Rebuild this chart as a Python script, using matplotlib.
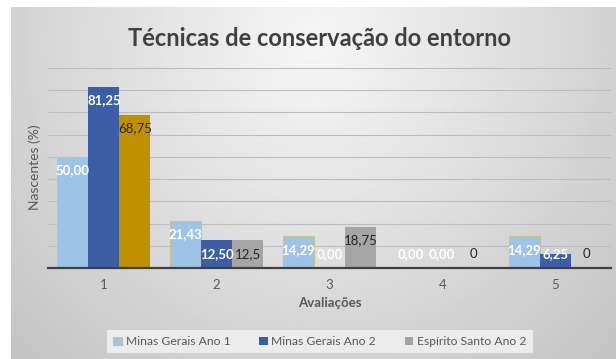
import numpy as np
import matplotlib.pyplot as plt
from matplotlib.patches import Patch

categorias = ['1', '2', '3', '4', '5']
mg_ano1 = [50.00, 21.43, 14.29, 0.00, 14.29]
mg_ano2 = [81.25, 12.50, 0.00, 0.00, 6.25]
es_ano2 = [68.75, 12.5, 18.75, 0, 0]
rotulos_mg1 = ['50,00', '21,43', '14,29', '0,00', '14,29']
rotulos_mg2 = ['81,25', '12,50', '0,00', '0,00', '6,25']
rotulos_es = ['68,75', '12,5', '18,75', '0', '0']

plt.rcParams['font.family'] = ['Lato', 'DejaVu Sans']

fig = plt.figure(figsize=(6.16, 3.59), dpi=100)
fig.patch.set_facecolor('white')

# fundo cinza com degradê radial
bg = fig.add_axes([11 / 616, 0, 1 - 11 / 616, 352 / 359], zorder=-10)
gx, gy = np.meshgrid(np.linspace(0, 1, 300), np.linspace(0, 1, 200))
r = np.sqrt(((gx - 0.5) / 0.5) ** 2 + ((gy - 0.1) / 0.9) ** 2)
val = np.clip(0.965 - 0.14 * r, 0, 1)
bg.imshow(val, cmap='gray', vmin=0, vmax=1, aspect='auto', extent=[0, 1, 1, 0])
bg.axis('off')

ax = fig.add_axes([47.6 / 616, 90.7 / 359, 563.8 / 616, 200.6 / 359])
ax.set_facecolor('none')

x = np.arange(len(categorias))
w = 0.275
cor_es = ['#BF9000', '#A5A5A5', '#A5A5A5', '#A5A5A5', '#A5A5A5']

ax.bar(x - w, mg_ano1, w, color='#9DC3E6', edgecolor='#C8C48A', linewidth=0.8, zorder=3)
ax.bar(x, mg_ano2, w, color='#3B5EA6', zorder=3)
ax.bar(x + w, es_ano2, w, color=cor_es, zorder=3)

def rotular(offset, valores, textos, cor, peso):
    for xi, v, t in zip(x + offset, valores, textos):
        ax.text(xi, max(v - 6.0, 6.2), t, ha='center', va='center',
                color=cor, fontsize=9.5, fontweight=peso, zorder=5)

rotular(-w, mg_ano1, rotulos_mg1, 'white', 'bold')
rotular(0, mg_ano2, rotulos_mg2, 'white', 'bold')
rotular(w, es_ano2, rotulos_es, '#262626', 'normal')

ax.set_xlim(-0.5, len(categorias) - 0.5)
ax.set_ylim(0, 90)
ax.set_yticks(np.arange(0, 91, 10))
ax.set_yticklabels([])
ax.tick_params(axis='y', length=0)
ax.tick_params(axis='x', length=0, pad=8, labelcolor='#595959', labelsize=9.5)
ax.set_xticks(x)
ax.set_xticklabels(categorias)
ax.grid(axis='y', color='#bcbcbc', linewidth=0.8, zorder=0)
for s in ['top', 'right', 'left']:
    ax.spines[s].set_visible(False)
ax.spines['bottom'].set_color('#404040')
ax.spines['bottom'].set_linewidth(1.6)
ax.spines['bottom'].set_zorder(4)

ax.set_xlabel('Avaliações', color='#595959', fontsize=9.5, fontweight='bold', labelpad=4)
fig.text(35 / 616, 1 - 167 / 359, 'Nascentes (%)', rotation=90, ha='center', va='center',
         color='#595959', fontsize=10)

fig.text(320 / 616, 1 - 38 / 359, 'Técnicas de conservação do entorno', ha='center',
         va='center', color='#404040', fontsize=17, fontweight='bold')

handles = [Patch(facecolor='#9DC3E6', edgecolor='#C8C48A', linewidth=0.8),
           Patch(facecolor='#3B5EA6'),
           Patch(facecolor='#A5A5A5')]
nomes = ['Minas Gerais Ano 1', 'Minas Gerais Ano 2', 'Espírito Santo Ano 2']
leg = fig.legend(handles, nomes, loc='center', bbox_to_anchor=(320 / 616, 17.5 / 359),
                 ncol=3, frameon=True, fancybox=False, facecolor='#ececec', edgecolor='none',
                 framealpha=1, fontsize=8.7, handlelength=0.7, handleheight=0.7,
                 handletextpad=0.3, columnspacing=2.4, borderpad=0.5)
for t in leg.get_texts():
    t.set_color('#595959')

fig.savefig('out.png', dpi=100)
